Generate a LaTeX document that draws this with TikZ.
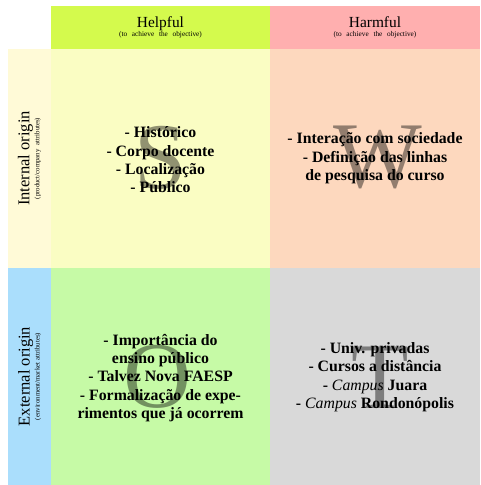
\documentclass[tikz,border=0pt]{standalone}
\usepackage{fontspec}
\setmainfont{Liberation Serif}
\usetikzlibrary{positioning}

\definecolor{helpfulcol}{RGB}{212,250,77}
\definecolor{harmfulcol}{RGB}{255,175,175}
\definecolor{internalcol}{RGB}{255,250,215}
\definecolor{externalcol}{RGB}{170,222,252}
\definecolor{strengthcol}{RGB}{250,253,195}
\definecolor{weaknesscol}{RGB}{253,216,190}
\definecolor{opportunitycol}{RGB}{198,250,166}
\definecolor{threatcol}{RGB}{217,217,217}

\newcommand{\smallnote}[1]{{\fontsize{7.3}{9.5}\selectfont\spaceskip=0.65em plus 0.1em\relax #1}}

\begin{document}
\begin{tikzpicture}[x=1pt, y=-1pt,
    heading/.style={align=center, inner sep=0pt, font=\fontsize{15.4}{9.5}\selectfont},
    sideheading/.style={heading, rotate=90, font=\fontsize{16.5}{10}\selectfont},
    bigletter/.style={inner sep=0pt, text=black, text opacity=0.42, font=\fontsize{94}{94}\selectfont},
    items/.style={align=center, inner sep=0pt, font=\fontsize{15.8}{18.4}\selectfont\bfseries}]
    \useasboundingbox (0,0) rectangle (480,485);

    % headers
    \fill[helpfulcol] (51,6) rectangle (270,49);
    \fill[harmfulcol] (270,6) rectangle (480,49);
    \fill[internalcol] (8,49) rectangle (51,268);
    \fill[externalcol] (8,268) rectangle (51,485);

    % quadrants
    \fill[strengthcol] (51,49) rectangle (270,268);
    \fill[weaknesscol] (270,49) rectangle (480,268);
    \fill[opportunitycol] (51,268) rectangle (270,485);
    \fill[threatcol] (270,268) rectangle (480,485);

    \node[heading] (helpful) at (160.5,27.5) {Helpful\\\smallnote{(to achieve the objective)}};
    \node[heading] (harmful) at (375,27.5) {Harmful\\\smallnote{(to achieve the objective)}};
    \node[sideheading] (internal) at (29.5,158.5) {Internal origin\\{\fontsize{6.8}{10}\selectfont\spaceskip=0.6em plus 0.1em\relax (product/company attributes)}};
    \node[sideheading] (external) at (29.5,376.5) {External origin\\{\fontsize{6.8}{10}\selectfont\spaceskip=0.3em plus 0.1em\relax (environment/market attributes)}};

    \node[bigletter] (sletter) at (161,157.5) {S};
    \node[bigletter] (wletter) at (378,157) {W};
    \node[bigletter] (oletter) at (157,377) {O};
    \node[bigletter] (tletter) at (380,378) {T};

    \node[items] (strengths) at (160.5,160) {- Histórico\\- Corpo docente\\- Localização\\- Público};
    \node[items] (weaknesses) at (375,158.5) {- Interação com sociedade\\- Definição das linhas\\de pesquisa do curso};
    \node[items] (opportunities) at (160.5,378) {- Importância do\\ensino público\\- Talvez Nova FAESP\\- Formalização de expe-\\rimentos que já ocorrem};
    \node[items] (threats) at (375,377) {- Univ. privadas\\- Cursos a distância\\- {\mdseries\itshape Campus} Juara\\- {\mdseries\itshape Campus} Rondonópolis};
\end{tikzpicture}
\end{document}
